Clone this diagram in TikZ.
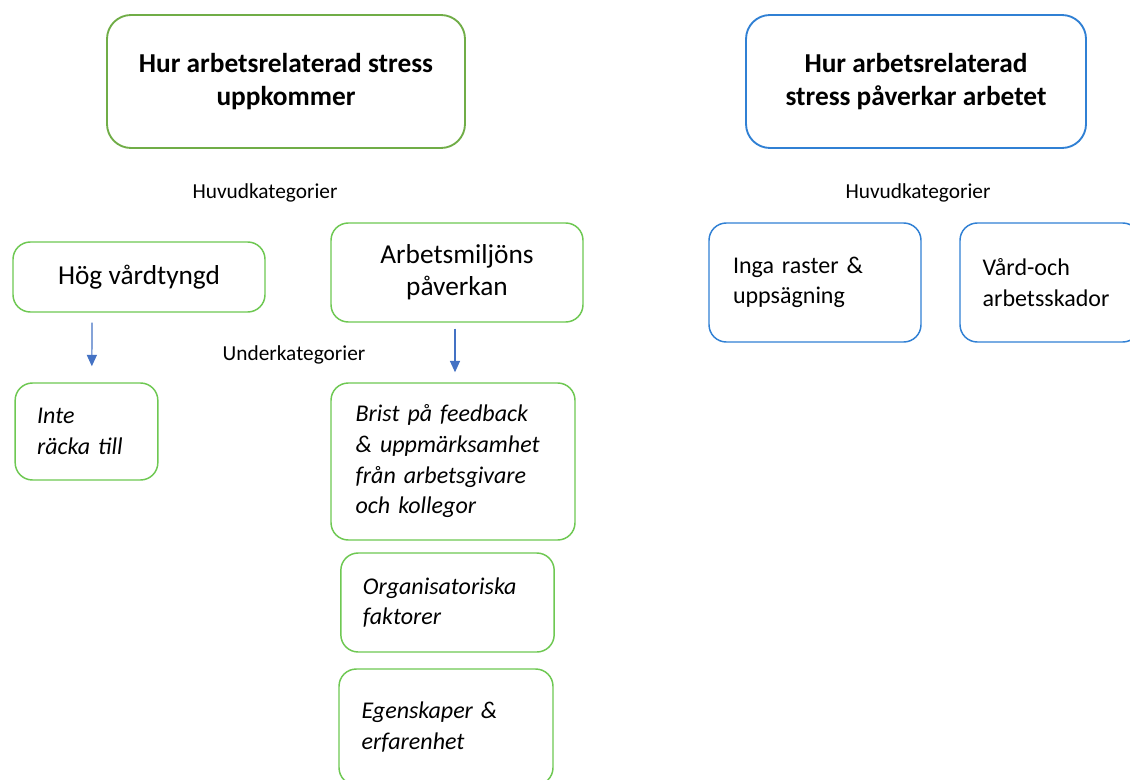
\documentclass[tikz,border=0pt]{standalone}
\usepackage{fontspec}
\setmainfont{Carlito}
\usetikzlibrary{arrows.meta}
\definecolor{topgreen}{RGB}{112,173,71}
\definecolor{boxgreen}{RGB}{110,200,82}
\definecolor{boxblue}{RGB}{48,128,212}
\definecolor{arrowblue}{RGB}{68,114,196}
\tikzset{
  headbox/.style={draw=#1,line width=1.4pt,rounded corners=18pt,align=center,
    font=\fontsize{20.5}{25}\selectfont\bfseries,inner sep=0pt},
  catbox/.style={draw=#1,line width=1.1pt,rounded corners=13pt,align=center,
    font=\fontsize{20.5}{24}\selectfont,inner sep=0pt},
  subbox/.style={draw=boxgreen,line width=1.1pt,rounded corners=13pt,align=left,
    font=\fontsize{18}{23}\selectfont\itshape,inner ysep=0pt},
  lbl/.style={font=\fontsize{16}{18}\selectfont},
  arr/.style={draw=arrowblue,line width=0.9pt,-{Triangle[width=7.5pt,length=8.5pt]}}
}
\begin{document}
\begin{tikzpicture}[x=0.75pt,y=-0.75pt]
  \clip (0,0) rectangle (1130,780);
  \fill[white] (0,0) rectangle (1130,780);
  % rubriker
  \node[headbox=topgreen,minimum width=268.5pt,minimum height=99.75pt] (uppk) at (286,81.5)
    {Hur arbetsrelaterad stress\\uppkommer};
  \node[headbox=boxblue,minimum width=255pt,minimum height=99.75pt] (paverk) at (916,81.5)
    {Hur arbetsrelaterad\\stress påverkar arbetet};
  \node[lbl] (hk1) at (265,193) {Huvudkategorier};
  \node[lbl] (hk2) at (918,193) {Huvudkategorier};
  \node[lbl] (uk) at (294,355) {Underkategorier};
  % huvudkategorier
  \node[catbox=boxgreen,minimum width=189pt,minimum height=52.5pt] (hog) at (139,277)
    {Hög vårdtyngd};
  \node[catbox=boxgreen,minimum width=189pt,minimum height=74.25pt] (arb) at (457,272.5)
    {Arbetsmiljöns\\påverkan};
  \node[subbox,draw=boxblue,font=\fontsize{18}{23}\selectfont,inner xsep=18pt,
    text width=123pt,minimum height=89.25pt] (inga) at (815,282.5)
    {Inga raster \&\\uppsägning};
  \node[subbox,draw=boxblue,font=\fontsize{18}{23}\selectfont,inner xsep=17pt,
    text width=101pt,minimum height=89.25pt] (vard) at (1050,282.5)
    {Vård-och\\arbetsskador};
  % underkategorier
  \node[subbox,inner xsep=16.5pt,text width=74pt,minimum height=72.75pt] (inte) at (86.5,431.5)
    {Inte\\räcka till};
  \node[subbox,inner xsep=18.5pt,text width=146pt,minimum height=117.75pt] (brist) at (453,461.5)
    {Brist på feedback\\\& uppmärksamhet\\från arbetsgivare\\och kollegor};
  \node[subbox,inner xsep=16.5pt,text width=127pt,minimum height=74.25pt] (org) at (447.5,602.5)
    {Organisatoriska\\faktorer};
  \node[subbox,inner xsep=17pt,text width=126.5pt,minimum height=87pt] (egen) at (446,727)
    {Egenskaper \&\\erfarenhet};
  % pilar
  \draw[arr] ([xshift=-35.25pt,yshift=-7.5pt]hog.south) -- ([xshift=4pt,yshift=12pt]inte.north);
  \draw[arr] ([xshift=-1.5pt,yshift=-4.5pt]arb.south) -- ([xshift=1.5pt,yshift=7.5pt]brist.north);
\end{tikzpicture}
\end{document}
